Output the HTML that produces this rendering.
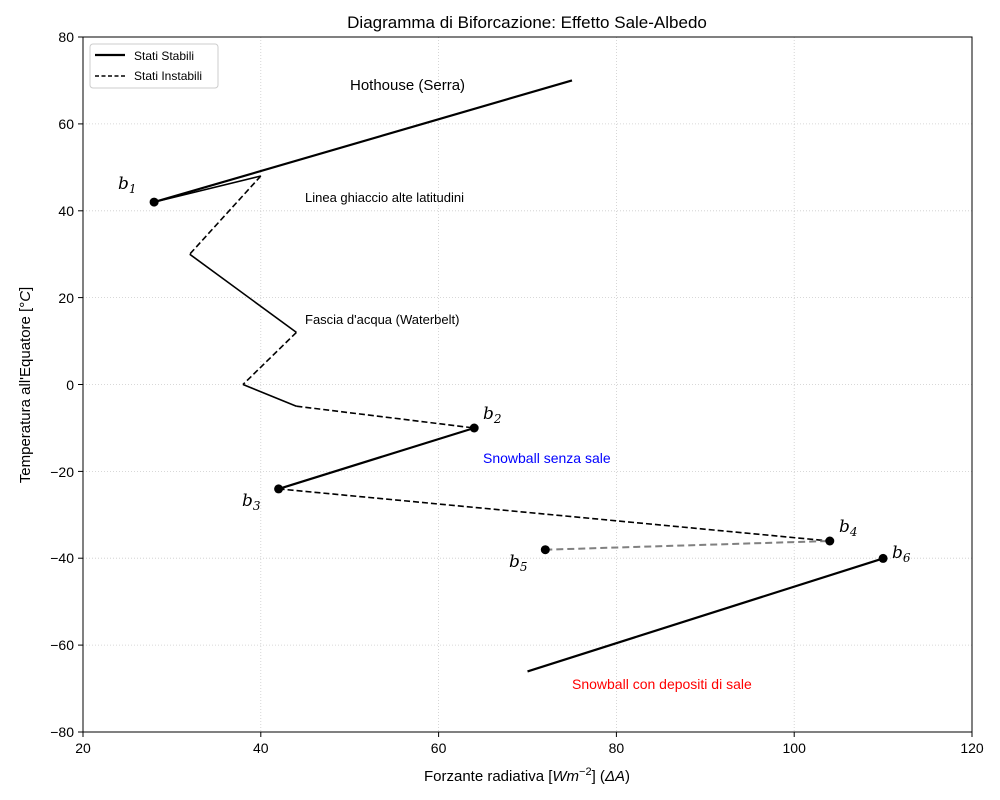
<!DOCTYPE html>
<html><head><meta charset="utf-8"><style>body{margin:0;background:#fff}svg{display:block;font-family:"Liberation Sans",sans-serif}</style></head><body>
<svg width="1000" height="800" viewBox="0 0 1000 800" xmlns="http://www.w3.org/2000/svg">
<rect width="1000" height="800" fill="#fff"/>
<g stroke="#ccc" stroke-width="0.8" stroke-dasharray="1,2">
<line x1="260.8" y1="37" x2="260.8" y2="732"/><line x1="438.6" y1="37" x2="438.6" y2="732"/><line x1="616.4" y1="37" x2="616.4" y2="732"/><line x1="794.2" y1="37" x2="794.2" y2="732"/>
<line x1="83" y1="123.9" x2="972" y2="123.9"/><line x1="83" y1="210.8" x2="972" y2="210.8"/><line x1="83" y1="297.6" x2="972" y2="297.6"/><line x1="83" y1="384.5" x2="972" y2="384.5"/><line x1="83" y1="471.4" x2="972" y2="471.4"/><line x1="83" y1="558.2" x2="972" y2="558.2"/><line x1="83" y1="645.1" x2="972" y2="645.1"/>
</g>
<g fill="none" stroke="#000">
<line x1="154.1" y1="202.1" x2="572" y2="80.4" stroke-width="2.2"/>
<line x1="154.1" y1="202.1" x2="260.8" y2="176" stroke-width="1.6"/>
<line x1="260.8" y1="176" x2="189.7" y2="254.2" stroke-width="1.6" stroke-dasharray="6,3"/>
<line x1="189.7" y1="254.2" x2="296.4" y2="332.4" stroke-width="1.6"/>
<line x1="296.4" y1="332.4" x2="243" y2="384.5" stroke-width="1.6" stroke-dasharray="6,3"/>
<line x1="243" y1="384.5" x2="296.4" y2="406.2" stroke-width="1.6"/>
<line x1="296.4" y1="406.2" x2="474.2" y2="428" stroke-width="1.6" stroke-dasharray="6,3"/>
<line x1="474.2" y1="428" x2="278.6" y2="488.9" stroke-width="2.2"/>
<line x1="278.6" y1="488.9" x2="829.8" y2="541" stroke-width="1.6" stroke-dasharray="6,3"/>
<line x1="545.3" y1="549.7" x2="829.8" y2="541" stroke-width="2" stroke="#808080" stroke-dasharray="7,4"/>
<line x1="527.5" y1="671.4" x2="883.1" y2="558.4" stroke-width="2.2"/>
</g>
<g fill="#000">
<circle cx="154.1" cy="202.1" r="4.5"/><circle cx="474.2" cy="428" r="4.5"/><circle cx="278.6" cy="488.9" r="4.5"/><circle cx="829.8" cy="541" r="4.5"/><circle cx="545.3" cy="549.7" r="4.5"/><circle cx="883.1" cy="558.4" r="4.5"/>
</g>
<g font-size="17" font-style="italic" font-family="'DejaVu Serif',serif">
<text x="118" y="189">b<tspan font-size="12" dy="4">1</tspan></text>
<text x="483" y="419">b<tspan font-size="12" dy="4">2</tspan></text>
<text x="242" y="506">b<tspan font-size="12" dy="4">3</tspan></text>
<text x="839" y="532">b<tspan font-size="12" dy="4">4</tspan></text>
<text x="509" y="567">b<tspan font-size="12" dy="4">5</tspan></text>
<text x="892" y="558">b<tspan font-size="12" dy="4">6</tspan></text>
</g>
<text x="350" y="90" font-size="15">Hothouse (Serra)</text>
<text x="305" y="202" font-size="13">Linea ghiaccio alte latitudini</text>
<text x="305" y="324" font-size="13">Fascia d'acqua (Waterbelt)</text>
<text x="483" y="463" font-size="14" fill="#00f">Snowball senza sale</text>
<text x="572" y="689" font-size="14" fill="#f00">Snowball con depositi di sale</text>
<rect x="83" y="37" width="889" height="695" fill="none" stroke="#000" stroke-width="1"/>
<g stroke="#000"><line x1="83" y1="732" x2="83" y2="737"/><line x1="260.8" y1="732" x2="260.8" y2="737"/><line x1="438.6" y1="732" x2="438.6" y2="737"/><line x1="616.4" y1="732" x2="616.4" y2="737"/><line x1="794.2" y1="732" x2="794.2" y2="737"/><line x1="972" y1="732" x2="972" y2="737"/>
<line x1="78" y1="37" x2="83" y2="37"/><line x1="78" y1="123.9" x2="83" y2="123.9"/><line x1="78" y1="210.8" x2="83" y2="210.8"/><line x1="78" y1="297.6" x2="83" y2="297.6"/><line x1="78" y1="384.5" x2="83" y2="384.5"/><line x1="78" y1="471.4" x2="83" y2="471.4"/><line x1="78" y1="558.2" x2="83" y2="558.2"/><line x1="78" y1="645.1" x2="83" y2="645.1"/><line x1="78" y1="732" x2="83" y2="732"/></g>
<g font-size="14" text-anchor="middle"><text x="83" y="753">20</text><text x="260.8" y="753">40</text><text x="438.6" y="753">60</text><text x="616.4" y="753">80</text><text x="794.2" y="753">100</text><text x="972" y="753">120</text></g>
<g font-size="14" text-anchor="end"><text x="74" y="42">80</text><text x="74" y="129">60</text><text x="74" y="216">40</text><text x="74" y="303">20</text><text x="74" y="390">0</text><text x="74" y="477">−20</text><text x="74" y="563">−40</text><text x="74" y="650">−60</text><text x="74" y="737">−80</text></g>
<text x="527" y="28" font-size="17" text-anchor="middle">Diagramma di Biforcazione: Effetto Sale-Albedo</text>
<text x="527" y="781" font-size="15" text-anchor="middle">Forzante radiativa [<tspan font-style="italic">Wm</tspan><tspan font-size="11" dy="-6">−2</tspan><tspan dy="6">] (</tspan><tspan font-style="italic">ΔA</tspan>)</text>
<text transform="translate(30,385) rotate(-90)" font-size="15" text-anchor="middle">Temperatura all'Equatore [°<tspan font-style="italic">C</tspan>]</text>
<rect x="90" y="44" width="128" height="44" rx="3" fill="#fff" stroke="#ccc"/>
<line x1="95" y1="55" x2="125" y2="55" stroke="#000" stroke-width="2.2"/>
<line x1="95" y1="76" x2="125" y2="76" stroke="#000" stroke-width="1.4" stroke-dasharray="4,2.5"/>
<text x="134" y="60" font-size="12">Stati Stabili</text>
<text x="134" y="80" font-size="12">Stati Instabili</text>
</svg>
</body></html>
